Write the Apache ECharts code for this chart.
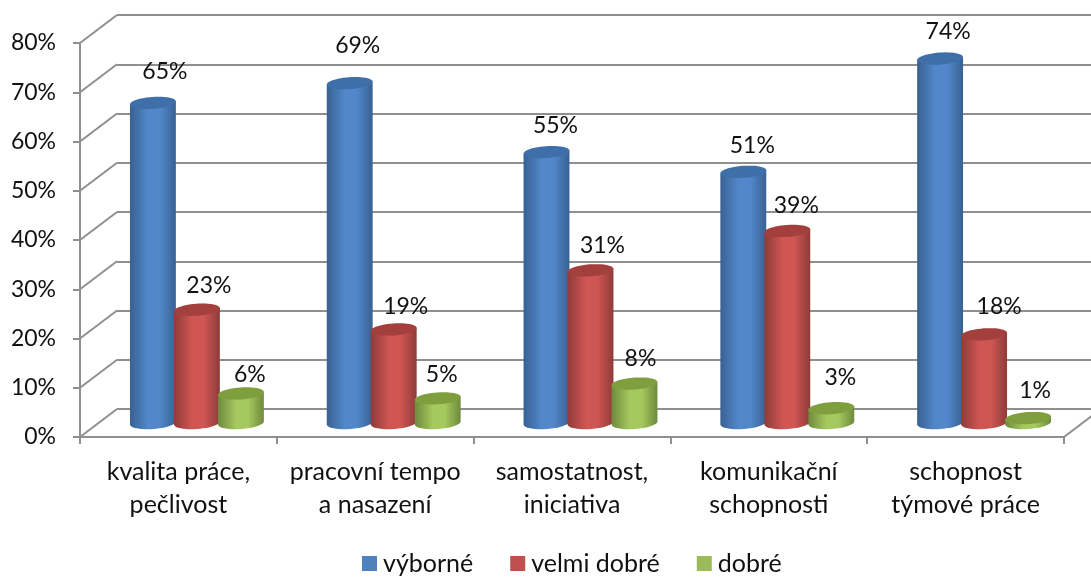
<!DOCTYPE html>
<html>
<head>
<meta charset="utf-8">
<style>
  html, body { margin: 0; padding: 0; background: #fff; }
  #chart { width: 1091px; height: 578px; }
</style>
<script src="https://cdn.jsdelivr.net/npm/echarts@6/dist/echarts.min.js"></script>
</head>
<body>
<div id="chart"></div>
<script>
const categories = ['kvalita práce,\npečlivost', 'pracovní tempo\na nasazení', 'samostatnost,\niniciativa', 'komunikační\nschopnosti', 'schopnost\ntýmové práce'];
const vyborne = [65, 69, 55, 51, 74];
const velmiDobre = [23, 19, 31, 39, 18];
const dobre = [6, 5, 8, 3, 1];
const yTicks = [0, 10, 20, 30, 40, 50, 60, 70, 80];

// where Excel happened to put each label, relative to the cylinder top
const nudgeVyborne = [[12, -31], [8, -38], [9, -27], [9, -26], [8, -27]];
const nudgeVelmi = [[12, -24], [12, -23], [12, -25], [9, -25], [15, -28]];
const nudgeDobre = [[9, -19], [4, -24], [6, -25], [9, -31], [7, -27]];

const FONT = 'Lato';
const DEPTH_X = 37, DEPTH_Y = 28;
const RX = 23, RY = 6, TILT = -4 * Math.PI / 180;
const AXIS_COLOR = '#8f8f8f';

const chart = echarts.init(document.getElementById('chart'));

// point on the slightly tilted ellipse
function rim(cx, cy, t) {
  const x = RX * Math.cos(t), y = RY * Math.sin(t);
  return [cx + x * Math.cos(TILT) - y * Math.sin(TILT), cy + x * Math.sin(TILT) + y * Math.cos(TILT)];
}

function cylinder(name, values, barOffset, colors, nudges) {
  return {
    name: name,
    type: 'custom',
    coordinateSystem: 'cartesian2d',
    clip: false,
    itemStyle: { color: colors.legend },
    encode: { x: 0, y: 1 },
    data: values.map((v, i) => [i, v]),
    renderItem(params, api) {
      const i = api.value(0), v = api.value(1);
      const base = api.coord([i, 0]);
      const top = api.coord([i, v]);
      const cx = base[0] + DEPTH_X / 2 + barOffset;
      const by = base[1] - DEPTH_Y / 2;
      const ty = top[1] - DEPTH_Y / 2;
      const pts = [];
      for (let k = 0; k <= 24; k++) pts.push(rim(cx, by, Math.PI * k / 24));
      pts.reverse();
      pts.push(rim(cx, ty, 0));
      pts.push(rim(cx, ty, Math.PI));
      const ell = [];
      for (let k = 0; k < 48; k++) ell.push(rim(cx, ty, Math.PI * 2 * k / 48));
      const n = nudges[i];
      return {
        type: 'group',
        children: [
          {
            type: 'polygon',
            shape: { points: pts },
            style: {
              fill: {
                type: 'linear', x: 0, y: 0, x2: 1, y2: 0,
                colorStops: [
                  { offset: 0, color: colors.edge },
                  { offset: 0.4, color: colors.mid },
                  { offset: 0.65, color: colors.mid },
                  { offset: 1, color: colors.edge },
                ],
              },
            },
          },
          { type: 'polygon', shape: { points: ell }, style: { fill: colors.top } },
          {
            type: 'text',
            z2: 10,
            style: {
              text: v + '%',
              x: cx + n[0],
              y: ty + n[1],
              align: 'center',
              verticalAlign: 'middle',
              fontFamily: FONT,
              fontSize: 23,
              fill: '#111',
            },
          },
        ],
      };
    },
  };
}

// the slanted lines joining the front axis to the back wall
const wallSeries = {
  type: 'custom',
  coordinateSystem: 'cartesian2d',
  clip: false,
  silent: true,
  z: 1,
  encode: { x: 0, y: 1 },
  data: yTicks.map(t => [0, t]).concat([[4, 0]]),
  renderItem(params, api) {
    const y = api.coord([api.value(0), api.value(1)])[1];
    const x = params.dataIndex === yTicks.length ? params.coordSys.x + params.coordSys.width : params.coordSys.x;
    return {
      type: 'line',
      shape: { x1: x, y1: y, x2: x + DEPTH_X, y2: y - DEPTH_Y },
      style: { stroke: AXIS_COLOR, lineWidth: 2 },
    };
  },
};

chart.setOption({
  animation: false,
  backgroundColor: '#fff',
  legend: {
    left: 357,
    top: 546,
    data: ['výborné', 'velmi dobré', 'dobré'],
    icon: 'rect',
    itemWidth: 15,
    itemHeight: 15,
    itemGap: 37,
    textStyle: { fontFamily: FONT, fontSize: 25, color: '#111', padding: [0, 0, 0, 1] },
  },
  grid: [
    { left: 80, top: 43, width: 984, height: 394 },
    { left: 117, top: 15, width: 984, height: 394 },
  ],
  xAxis: [
    {
      type: 'category',
      gridIndex: 0,
      data: categories,
      axisLine: { lineStyle: { color: AXIS_COLOR, width: 2 } },
      axisTick: { show: true, length: 7, lineStyle: { color: AXIS_COLOR, width: 2 } },
      axisLabel: { interval: 0, margin: 18, fontFamily: FONT, fontSize: 25, lineHeight: 33, color: '#111' },
    },
    { type: 'category', gridIndex: 1, data: categories, show: false },
  ],
  yAxis: [
    {
      type: 'value',
      gridIndex: 0,
      min: 0,
      max: 80,
      interval: 10,
      axisLine: { show: true, lineStyle: { color: AXIS_COLOR, width: 2 } },
      axisTick: { show: true, length: 7, lineStyle: { color: AXIS_COLOR, width: 2 } },
      axisLabel: { margin: 24, formatter: '{value}%', fontFamily: FONT, fontSize: 23, color: '#111' },
      splitLine: { show: false },
    },
    {
      type: 'value',
      gridIndex: 1,
      min: 0,
      max: 80,
      interval: 10,
      axisLine: { show: false },
      axisTick: { show: false },
      axisLabel: { show: false },
      splitLine: { show: true, lineStyle: { color: AXIS_COLOR, width: 2 } },
    },
  ],
  series: [
    wallSeries,
    cylinder('výborné', vyborne, -44, { legend: '#4f81bd', edge: '#386192', mid: '#5288cb', top: '#3f6fa8' }, nudgeVyborne),
    cylinder('velmi dobré', velmiDobre, 0, { legend: '#c0504d', edge: '#8e3b39', mid: '#cf5653', top: '#a33f3c' }, nudgeVelmi),
    cylinder('dobré', dobre, 44, { legend: '#9bbb59', edge: '#6f8a3c', mid: '#a6c95f', top: '#7f9f3e' }, nudgeDobre),
  ],
});
</script>
</body>
</html>
